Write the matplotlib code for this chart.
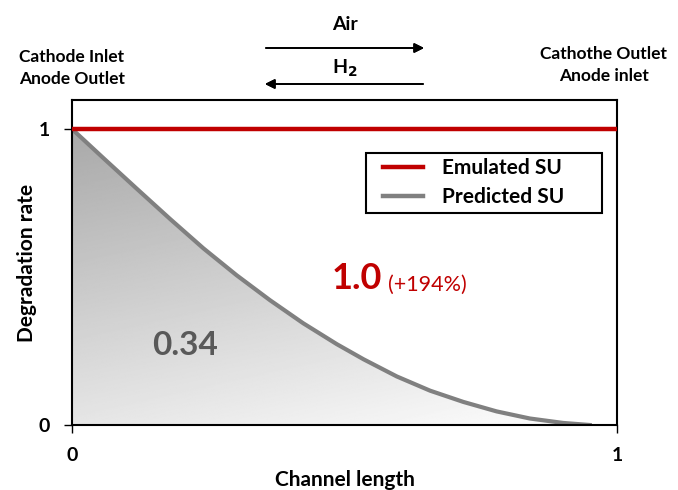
"""
Degradation rate along the channel: emulated vs predicted start-up (SU)
"""

import numpy as np
import matplotlib.pyplot as plt
from matplotlib.lines import Line2D
from matplotlib.patches import Rectangle

plt.rcParams['font.family'] = ['Lato', 'DejaVu Sans']

# channel position (normalised) and the predicted degradation rate
channel_pos = [0, 0.058, 0.119, 0.180, 0.241, 0.302, 0.363, 0.424, 0.486,
               0.535, 0.596, 0.657, 0.718, 0.779, 0.840, 0.901, 0.950]
predicted_su = [1, 0.901, 0.798, 0.696, 0.597, 0.506, 0.422, 0.344, 0.273,
                0.222, 0.164, 0.116, 0.078, 0.046, 0.022, 0.007, 0]
emulated_su = [1, 1]
emulated_pos = [0, 1]

predicted_area = '0.34'
emulated_area = '1.0'
increase_label = '(+194%)'

W, H = 678, 490


def fx(px):
    return px / W


def fy(py):
    return 1 - py / H


def main():
    fig = plt.figure(figsize=(W / 100, H / 100), dpi=100)
    ax = fig.add_axes([fx(72), fy(425), fx(617) - fx(72), fy(100) - fy(425)])
    ax.set_xlim(0, 1)
    ax.set_ylim(0, 1.098)

    # gradient shading under the predicted curve
    gx, gy = np.meshgrid(np.linspace(0, 1, 300), np.linspace(0, 1.1, 300))
    shade = np.clip(0.66 + 0.24 * (1 - gy) + 0.1 * gx, 0, 0.975)
    img = ax.imshow(shade, extent=[0, 1, 0, 1.1], origin='lower',
                    cmap='gray', vmin=0, vmax=1, aspect='auto', zorder=1)
    poly = ax.fill_between(channel_pos, predicted_su, 0, color='none',
                           zorder=1)
    img.set_clip_path(poly.get_paths()[0], transform=ax.transData)

    ax.plot(emulated_pos, emulated_su, color='#c00000', lw=3.2, zorder=3,
            solid_capstyle='butt', clip_on=False)
    ax.plot(channel_pos, predicted_su, color='#808080', lw=3, zorder=2,
            solid_joinstyle='round')

    ax.set_xticks([0, 1])
    ax.set_yticks([0, 1])
    ax.set_xticklabels(['0', '1'])
    ax.set_yticklabels(['0', '1'])
    ax.tick_params(direction='out', length=6, width=1, labelsize=14,
                   pad=10)
    for s in ax.spines.values():
        s.set_linewidth(1.5)
    for lab in ax.get_xticklabels() + ax.get_yticklabels():
        lab.set_fontweight('bold')

    ax.set_xlabel('Channel length', fontsize=15, fontweight='bold',
                  labelpad=4)
    ax.set_ylabel('Degradation rate', fontsize=15, fontweight='bold',
                  labelpad=1)

    ax.text(0.208, 0.27, predicted_area, fontsize=24, fontweight='bold',
            color='#595959', ha='center', va='center', zorder=4)
    ax.text(0.522, 0.496, emulated_area, fontsize=26, fontweight='bold',
            color='#c00000', ha='center', va='center', zorder=4)
    ax.text(0.579, 0.475, increase_label, fontsize=15.5, color='#c00000',
            ha='left', va='center', zorder=4)

    # legend with its own box (wide right margin)
    handles = [Line2D([], [], color='#c00000', lw=3.2),
               Line2D([], [], color='#808080', lw=3.2)]
    ax.legend(handles, ['Emulated SU', 'Predicted SU'],
              loc='upper left',
              bbox_to_anchor=(fx(377), fy(152)),
              bbox_transform=fig.transFigure,
              frameon=False, borderaxespad=0,
              handlelength=1.9, handletextpad=0.9,
              borderpad=0.3, labelspacing=0.42,
              prop={'weight': 'bold', 'size': 15})
    fig.add_artist(Rectangle((fx(366), fy(213)), fx(602) - fx(366),
                             fy(153) - fy(213), transform=fig.transFigure,
                             facecolor='none', edgecolor='black', lw=1.5,
                             zorder=5))

    # inlet / outlet labels and flow directions above the channel
    top = dict(fontsize=12.5, fontweight='bold', ha='center', va='center')
    fig.text(fx(72), fy(57), 'Cathode Inlet', **top)
    fig.text(fx(72), fy(79), 'Anode Outlet', **top)
    fig.text(fx(604), fy(54), 'Cathothe Outlet', **top)
    fig.text(fx(604), fy(76), 'Anode inlet', **top)

    fig.text(fx(345), fy(25), 'Air', fontsize=14, fontweight='bold',
             ha='center', va='center')
    fig.text(fx(345), fy(68), r'H$_\mathbf{2}$', fontsize=14,
             fontweight='bold', ha='center', va='center')
    arrow = dict(arrowstyle='-|>', color='black', lw=1.3,
                 mutation_scale=14, shrinkA=0, shrinkB=0)
    fig.add_artist(plt.annotate('', xy=(fx(424), fy(48)),
                                xytext=(fx(266), fy(48)),
                                xycoords='figure fraction',
                                textcoords='figure fraction',
                                arrowprops=arrow))
    fig.add_artist(plt.annotate('', xy=(fx(265), fy(84)),
                                xytext=(fx(423), fy(84)),
                                xycoords='figure fraction',
                                textcoords='figure fraction',
                                arrowprops=arrow))

    fig.savefig('out.png', dpi=100)


if __name__ == '__main__':
    main()
